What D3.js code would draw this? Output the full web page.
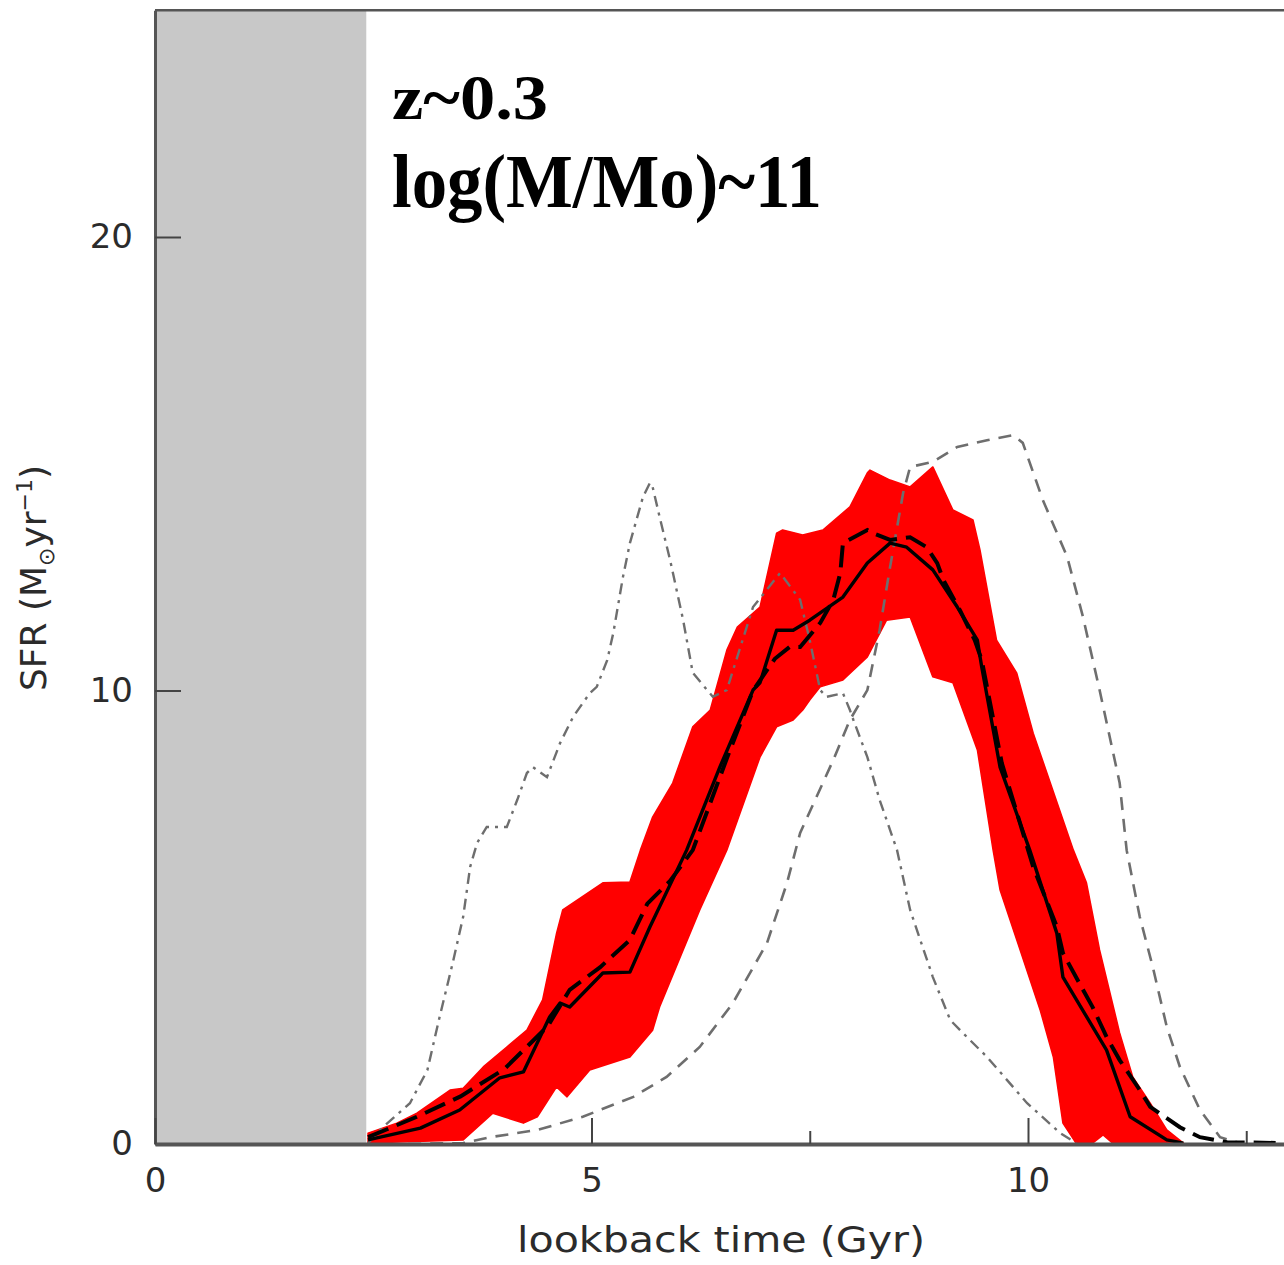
<!DOCTYPE html>
<html lang="en">
<head>
<meta charset="utf-8" />
<title>SFR vs lookback time</title>
<script src="https://cdnjs.cloudflare.com/ajax/libs/d3/7.8.5/d3.min.js"></script>
<style>
  body { margin: 0; background: #fff; }
  svg { display: block; }
  .tick text { font-family: "DejaVu Sans", sans-serif; fill: #2b2b2b; }
</style>
</head>
<body>
<div id="chart"></div>
<script>
// ---- data ----
var shadedRange = [0, 2.42];            // greyed-out lookback interval (Gyr)

var xTicks = [0, 5, 10];
var xMinorTicks = [7.5, 12.5];
var yTicks = [0, 10, 20];

// red band: upper and lower envelope
var bandUpperT   = [2.44, 2.77, 3.0, 3.38, 3.53, 3.76, 4.03, 4.26, 4.44, 4.60, 4.67, 5.13, 5.44, 5.56, 5.70, 5.93, 6.16, 6.36, 6.55, 6.67, 6.93, 7.12, 7.19, 7.42, 7.65, 7.96, 8.16, 8.19, 8.42, 8.65, 8.91, 9.14, 9.37, 9.45, 9.64, 9.87, 10.06, 10.52, 10.67, 10.82, 11.05, 11.20, 11.40, 11.59, 11.78];
var bandUpperSFR = [0.24, 0.46, 0.68, 1.19, 1.23, 1.70, 2.14, 2.51, 3.18, 4.65, 5.16, 5.76, 5.78, 6.48, 7.21, 7.96, 9.20, 9.57, 10.89, 11.40, 11.84, 13.47, 13.54, 13.43, 13.54, 14.05, 14.80, 14.86, 14.64, 14.49, 14.93, 13.98, 13.76, 13.10, 11.11, 10.39, 9.06, 6.48, 5.76, 4.28, 2.45, 1.48, 0.90, 0.31, 0.02];
var bandLowerT   = [2.44, 3.53, 3.87, 4.22, 4.38, 4.60, 4.72, 4.98, 5.44, 5.70, 5.78, 6.05, 6.24, 6.55, 6.93, 7.12, 7.31, 7.42, 7.50, 7.62, 7.88, 8.16, 8.38, 8.65, 8.91, 9.14, 9.42, 9.60, 9.68, 10.14, 10.29, 10.40, 10.55, 10.74, 10.86, 10.97, 11.78];
var bandLowerSFR = [0.02, 0.09, 0.68, 0.46, 0.60, 1.26, 1.04, 1.63, 1.92, 2.51, 3.02, 4.28, 5.16, 6.48, 8.53, 9.20, 9.35, 9.57, 9.79, 10.08, 10.23, 10.74, 11.55, 11.62, 10.30, 10.17, 8.69, 6.48, 5.60, 2.95, 1.92, 0.46, 0.02, 0.02, 0.20, 0.02, 0.02];

// black solid line
var solidT   = [2.44, 3.04, 3.49, 3.95, 4.22, 4.52, 4.64, 4.75, 5.13, 5.44, 5.67, 6.09, 6.47, 6.85, 6.93, 7.12, 7.31, 7.50, 7.88, 8.16, 8.42, 8.61, 8.91, 9.19, 9.42, 9.47, 9.68, 10.02, 10.33, 10.40, 10.90, 11.17, 11.59, 11.78];
var solidSFR = [0.09, 0.35, 0.75, 1.46, 1.59, 2.80, 3.11, 3.02, 3.77, 3.79, 4.79, 6.48, 8.31, 10.01, 10.17, 11.33, 11.33, 11.55, 12.06, 12.81, 13.25, 13.16, 12.66, 11.84, 11.11, 10.52, 8.31, 6.48, 4.65, 3.68, 2.07, 0.60, 0.09, 0.02];

// black long-dashed line
var dashT   = [2.44, 3.0, 3.5, 4.0, 4.5, 4.75, 5.1, 5.44, 5.64, 5.9, 6.16, 6.55, 6.85, 7.1, 7.27, 7.39, 7.62, 7.77, 7.85, 7.88, 8.16, 8.22, 8.42, 8.65, 8.84, 8.96, 9.03, 9.22, 9.39, 9.47, 9.7, 10.06, 10.33, 10.40, 10.63, 10.74, 10.90, 11.05, 11.28, 11.40, 11.74, 11.97, 12.28, 12.93, 15];
var dashSFR = [0.15, 0.6, 1.05, 1.65, 2.6, 3.4, 3.9, 4.5, 5.3, 5.8, 6.48, 8.5, 10.0, 10.7, 10.96, 10.96, 11.49, 12.0, 12.59, 13.25, 13.54, 13.47, 13.32, 13.38, 13.16, 12.81, 12.44, 11.77, 11.11, 10.67, 8.4, 6.11, 4.79, 4.21, 3.40, 3.02, 2.36, 1.85, 1.19, 0.82, 0.37, 0.15, 0.04, 0.02, 0.0];

// grey dashed line (late former)
var greyDashT   = [2.9, 3.53, 3.84, 4.38, 4.90, 5.48, 5.86, 6.24, 6.62, 7.01, 7.24, 7.39, 7.77, 7.96, 8.16, 8.30, 8.42, 8.57, 8.65, 8.91, 9.19, 9.53, 9.83, 9.94, 10.17, 10.45, 10.63, 10.82, 11.05, 11.13, 11.28, 11.43, 11.59, 11.74, 11.97, 12.20, 12.43];
var greyDashSFR = [0.0, 0.02, 0.15, 0.31, 0.60, 1.04, 1.48, 2.14, 3.11, 4.43, 5.76, 6.86, 8.47, 9.35, 10.01, 11.33, 12.72, 14.36, 14.93, 15.04, 15.37, 15.52, 15.63, 15.46, 14.20, 12.94, 11.62, 10.01, 7.96, 6.48, 5.01, 3.90, 2.58, 1.70, 0.75, 0.15, 0.02];

// grey dash-dot line (early former)
var greyDotT   = [2.44, 2.61, 2.92, 3.12, 3.26, 3.41, 3.53, 3.61, 3.69, 3.80, 4.03, 4.15, 4.26, 4.33, 4.49, 4.64, 4.79, 4.98, 5.06, 5.18, 5.25, 5.36, 5.44, 5.59, 5.67, 5.70, 5.78, 5.90, 6.05, 6.16, 6.39, 6.55, 6.85, 7.16, 7.39, 7.50, 7.62, 7.69, 7.88, 7.96, 8.0, 8.16, 8.30, 8.50, 8.65, 8.91, 9.11, 9.30, 9.53, 9.99, 10.37, 10.55];
var greyDotSFR = [0.02, 0.37, 0.90, 1.63, 2.80, 3.99, 5.01, 6.11, 6.64, 6.99, 6.99, 7.59, 8.18, 8.31, 8.09, 8.84, 9.42, 9.94, 10.08, 10.67, 11.27, 12.50, 13.25, 14.27, 14.58, 14.49, 13.83, 12.88, 11.55, 10.39, 9.86, 10.01, 11.84, 12.59, 12.0, 11.11, 10.01, 9.86, 9.94, 9.57, 9.35, 8.53, 7.59, 6.48, 5.16, 3.68, 2.73, 2.36, 1.92, 0.90, 0.24, 0.02];

// ---- layout ----
var width = 1284, height = 1265;

var x = d3.scaleLinear().domain([0, 15]).range([155, 1464.5]);
var y = d3.scaleLinear().domain([0, 25]).range([1144, 10.25]);

function pts(ts, vs) { return ts.map(function(t, i) { return [t, vs[i]]; }); }

var line = d3.line()
    .x(function(d) { return x(d[0]); })
    .y(function(d) { return y(d[1]); });

var svg = d3.select("#chart").append("svg")
    .attr("width", width)
    .attr("height", height);

svg.append("defs").append("clipPath").attr("id", "plotclip")
  .append("rect")
    .attr("x", x(0)).attr("y", y(25))
    .attr("width", x(15) - x(0)).attr("height", y(0) - y(25));

// grey shaded region
svg.append("rect")
    .attr("x", x(shadedRange[0]))
    .attr("y", y(25))
    .attr("width", x(shadedRange[1]) - x(shadedRange[0]))
    .attr("height", y(0) - y(25))
    .attr("fill", "#c8c8c8");

var plot = svg.append("g").attr("clip-path", "url(#plotclip)");

// red band as closed polygon
var bandPts = pts(bandUpperT, bandUpperSFR).concat(pts(bandLowerT, bandLowerSFR).reverse());
plot.append("path")
    .attr("d", line(bandPts) + "Z")
    .attr("fill", "#ff0000")
    .attr("stroke", "#ff0000")
    .attr("stroke-width", 1.5)
    .attr("stroke-linejoin", "round");

plot.append("path")
    .attr("d", line(pts(greyDashT, greyDashSFR)))
    .attr("fill", "none")
    .attr("stroke", "#6e6e6e")
    .attr("stroke-width", 2.6)
    .attr("stroke-dasharray", "13,9");

plot.append("path")
    .attr("d", line(pts(greyDotT, greyDotSFR)))
    .attr("fill", "none")
    .attr("stroke", "#6e6e6e")
    .attr("stroke-width", 2.4)
    .attr("stroke-dasharray", "11,6,3,6");

plot.append("path")
    .attr("d", line(pts(dashT, dashSFR)))
    .attr("fill", "none")
    .attr("stroke", "#000")
    .attr("stroke-width", 4)
    .attr("stroke-dasharray", "22,9");

plot.append("path")
    .attr("d", line(pts(solidT, solidSFR)))
    .attr("fill", "none")
    .attr("stroke", "#000")
    .attr("stroke-width", 3.4)
    .attr("stroke-linejoin", "round");

// ---- axes ----
var frameColor = "#555";

// top frame
svg.append("line")
    .attr("x1", x(0)).attr("x2", width)
    .attr("y1", y(25)).attr("y2", y(25))
    .attr("stroke", frameColor).attr("stroke-width", 2.5);

var yAxis = svg.append("g")
    .attr("transform", "translate(" + x(0) + ",0)")
    .call(d3.axisLeft(y).tickValues(yTicks).tickSize(-26).tickSizeOuter(0).tickPadding(22));
yAxis.select(".domain").attr("stroke", frameColor).attr("stroke-width", 3);
yAxis.selectAll(".tick line").attr("stroke", "#444").attr("stroke-width", 2);
yAxis.selectAll(".tick text").attr("font-size", 34);

var xAxis = svg.append("g")
    .attr("transform", "translate(0," + y(0) + ")")
    .call(d3.axisBottom(x).tickValues(xTicks).tickSize(-26).tickSizeOuter(0).tickPadding(24));
xAxis.select(".domain").attr("stroke", frameColor).attr("stroke-width", 4);
xAxis.selectAll(".tick line").attr("stroke", "#444").attr("stroke-width", 2);
xAxis.selectAll(".tick text").attr("font-size", 34);

var xMinor = svg.append("g")
    .attr("transform", "translate(0," + y(0) + ")")
    .call(d3.axisBottom(x).tickValues(xMinorTicks).tickSize(-13).tickSizeOuter(0).tickFormat(""));
xMinor.select(".domain").remove();
xMinor.selectAll(".tick line").attr("stroke", "#444").attr("stroke-width", 2);

// axis titles
svg.append("text")
    .attr("x", 721).attr("y", 1252)
    .attr("text-anchor", "middle")
    .attr("font-family", "DejaVu Sans, sans-serif")
    .attr("font-size", 36)
    .attr("fill", "#2b2b2b")
    .attr("textLength", 408)
    .attr("lengthAdjust", "spacingAndGlyphs")
    .text("lookback time (Gyr)");

var ylab = svg.append("text")
    .attr("transform", "translate(46,578) rotate(-90)")
    .attr("text-anchor", "middle")
    .attr("font-family", "DejaVu Sans, sans-serif")
    .attr("font-size", 36)
    .attr("fill", "#2b2b2b");
ylab.append("tspan").text("SFR (M");
ylab.append("tspan").attr("font-size", 22).attr("dy", 8).text("\u2299");
ylab.append("tspan").attr("dy", -8).text("yr");
ylab.append("tspan").attr("font-size", 22).attr("dy", -14).text("\u22121");
ylab.append("tspan").attr("dy", 14).text(")");

// annotation
svg.append("text")
    .attr("x", 392).attr("y", 119)
    .attr("font-family", "Liberation Serif, Times New Roman, serif")
    .attr("font-weight", "bold")
    .attr("font-size", 64)
    .attr("textLength", 156)
    .attr("lengthAdjust", "spacingAndGlyphs")
    .text("z~0.3");

svg.append("text")
    .attr("x", 392).attr("y", 207)
    .attr("font-family", "Liberation Serif, Times New Roman, serif")
    .attr("font-weight", "bold")
    .attr("font-size", 76)
    .attr("textLength", 430)
    .attr("lengthAdjust", "spacingAndGlyphs")
    .text("log(M/Mo)~11");
</script>
</body>
</html>
